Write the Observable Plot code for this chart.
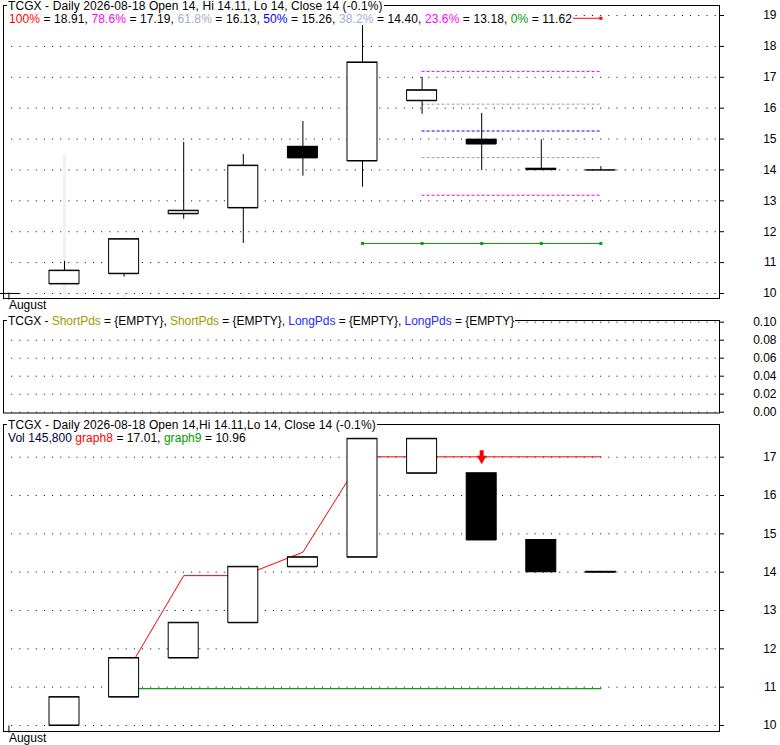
<!DOCTYPE html>
<html><head><meta charset="utf-8">
<script src="https://cdn.jsdelivr.net/npm/d3@7"></script>
<script src="https://cdn.jsdelivr.net/npm/@observablehq/plot@0.6"></script>
<style>
html,body{margin:0;padding:0;background:#fff;}
#chart{position:relative;width:780px;height:745px;overflow:hidden;font-family:"Liberation Sans",Arial,sans-serif;font-size:12px;}
#chart svg{position:absolute;left:0;}
.ttl{position:absolute;line-height:12px;height:12px;white-space:pre;background:#fff;padding:0 1px;color:#000;font-family:"Liberation Sans",Arial,sans-serif;font-size:12px;}
</style></head><body><div id="chart"></div>
<script>
// ---------------- data ----------------
const ticker = "TCGX";
const lastDate = "2026-08-18";
const bars   = [0, 1, 2, 3, 4, 5, 6, 7, 8, 9, 10];
const open   = [10.00, 10.31, 10.64, 12.58, 12.77, 14.75, 14.29, 16.24, 14.98, 14.04, 14.00];
const high   = [10.00, 11.04, 11.77, 14.89, 14.50, 15.57, 18.91, 17.00, 15.83, 14.98, 14.11];
const low    = [10.00, 10.31, 10.53, 12.40, 11.62, 13.80, 13.44, 15.80, 13.98, 14.00, 14.00];
const close  = [10.00, 10.74, 11.76, 12.68, 14.14, 14.39, 17.48, 16.58, 14.84, 14.01, 14.00];
const volume = [80000, 2950000, 90000, 110000, 120000, 80000, 130000, 90000, 100000, 70000, 145800];
const regime = ["up","up","up","up","up","up","up","up","down","down","down"];
const graph8 = [null, null, 11.27, 13.91, 13.91, 14.52, 17.01, 17.01, 17.01, 17.01, 17.01];
const graph9 = [null, null, 10.96, 10.96, 10.96, 10.96, 10.96, 10.96, 10.96, 10.96, 10.96];
const sellSignals = [8];

const fibLabels = ["100%", "78.6%", "61.8%", "50%", "38.2%", "23.6%", "0%"];
const fibValues = [18.91, 17.19, 16.13, 15.26, 14.40, 13.18, 11.62];
const fibTextColors = ["#ff0000", "#ff00ff", "#9eaed0", "#0000ff", "#9eaed0", "#ff00ff", "#009a00"];
const fibLineColors = ["#ff0000", "#ff00ff", "#a0a0a0", "#0000ff", "#a0a0a0", "#ff00ff", "#109a10"];
const fibDashed     = [false, true, true, true, true, true, false];
const fibFrom       = [6, 7, 7, 7, 7, 7, 6];
const fibTo         = [10, 10, 10, 10, 10, 10, 10];

const priceTicks = [10, 11, 12, 13, 14, 15, 16, 17, 18, 19];
const oscTicks   = [0, 0.02, 0.04, 0.06, 0.08, 0.10];
const lowerTicks = [10, 11, 12, 13, 14, 15, 16, 17];
const monthTicks = [0];
const monthNames = ["August"];

const oscNames  = ["ShortPds", "ShortPds", "LongPds", "LongPds"];
const oscColors = ["#9c9c00", "#9c9c00", "#2a2aff", "#2a2aff"];

// ---------------- build ----------------
const rows = bars.map((i, k) => ({
  i, o: open[k], h: high[k], l: low[k], c: close[k], v: volume[k],
  prev: k > 0 ? close[k - 1] : null, regime: regime[k], g8: graph8[k], g9: graph9[k]
}));
const fibRows = fibValues.map((v, k) => ({v, label: fibLabels[k], color: fibLineColors[k], dashed: fibDashed[k], from: fibFrom[k], to: fibTo[k]}));
const fibMarkers = fibRows.filter(d => !d.dashed).flatMap(d => bars.filter(b => b >= d.from && b <= d.to).map(b => ({i: b, v: d.v, color: d.color})));

const HW = 0.2517; // half body width, in bar units
const xScale = {type: "linear", domain: [-0.0235, 11.99]};
const font = "'Liberation Sans', Arial, sans-serif";
const common = {
  width: 780, marginLeft: 3, marginRight: 61,
  style: {background: "transparent", fontFamily: font, fontSize: "12px", color: "#000", overflow: "visible"},
  color: {type: "identity"}
};
const grid = (ticks) => Plot.gridY(ticks, {stroke: "#000", strokeOpacity: 1, strokeDasharray: "1,7.18"});
const yAxis = (ticks, fmt) => Plot.axisY(ticks, {anchor: "right", tickSize: 4, tickPadding: 53, textAnchor: "end", label: null, tickFormat: fmt, fontSize: 12});
const xAxis = () => Plot.axisX(monthTicks, {anchor: "bottom", tickSize: 7, tickPadding: 0, tickFormat: (d, k) => monthNames[k], textAnchor: "start", dx: 4, dy: -5.5, label: null, fontSize: 12});

const downArrow = {
  draw(ctx) {
    ctx.moveTo(-2, -6.5); ctx.lineTo(2, -6.5); ctx.lineTo(2, -1);
    ctx.lineTo(4.8, -1); ctx.lineTo(0, 7.5); ctx.lineTo(-4.8, -1);
    ctx.lineTo(-2, -1); ctx.closePath();
  }
};

const chart = document.getElementById("chart");
function place(svg, top) { svg.style.top = top + "px"; chart.append(svg); }

// volume overlay (top panel)
place(Plot.plot({
  ...common, height: 310, marginTop: 5, marginBottom: 12,
  x: {...xScale, axis: null}, y: {domain: [0, 6e6], axis: null},
  marks: [Plot.ruleX(rows, {x: "i", y1: 0, y2: "v", stroke: "#f1f1f1", strokeWidth: 3})]
}), 0);

// price panel
place(Plot.plot({
  ...common, height: 310, marginTop: 5, marginBottom: 12,
  x: {...xScale, axis: null}, y: {domain: [9.838, 19.324], axis: null, label: null},
  marks: [
    grid(priceTicks),
    Plot.ruleY(fibRows.filter(d => d.dashed), {y: "v", x1: "from", x2: "to", stroke: "color", strokeDasharray: "3,2"}),
    Plot.ruleY(fibRows.filter(d => !d.dashed), {y: "v", x1: "from", x2: "to", stroke: "color"}),
    Plot.dot(fibMarkers, {x: "i", y: "v", symbol: "square", r: 1.7, fill: "color"}),
    Plot.ruleX(rows, {x: "i", y1: "l", y2: "h", stroke: "#000"}),
    Plot.rect(rows, {x1: d => d.i - HW, x2: d => d.i + HW, y1: "o", y2: "c", fill: d => d.c < d.o ? "#000" : "#fff", stroke: "#000"}),
    Plot.ruleY(rows, {y: "o", x1: d => d.i - HW, x2: d => d.i + HW, stroke: "#000"}),
    Plot.ruleY(rows, {y: "c", x1: d => d.i - HW, x2: d => d.i + HW, stroke: "#000"}),
    yAxis(priceTicks),
    xAxis(),
    Plot.frame({stroke: "#000"})
  ]
}), 0);

// oscillator panel (empty)
place(Plot.plot({
  ...common, height: 110, marginTop: 10, marginBottom: 7.5,
  x: {...xScale, axis: null}, y: {domain: [-0.00089, 0.10189], axis: null, label: null},
  marks: [
    grid(oscTicks),
    yAxis(oscTicks, d3.format(".2f")),
    Plot.frame({stroke: "#000"})
  ]
}), 310);

// lower panel
const lowerRows = rows.filter(d => d.prev != null);
place(Plot.plot({
  ...common, height: 325, marginTop: 4, marginBottom: 14,
  x: {...xScale, axis: null}, y: {domain: [9.843, 17.853], axis: null, label: null},
  marks: [
    grid(lowerTicks),
    Plot.line(rows.filter(d => d.g8 != null), {x: "i", y: "g8", stroke: "#ff0000", strokeWidth: 1}),
    Plot.line(rows.filter(d => d.g9 != null), {x: "i", y: "g9", stroke: "#109a10", strokeWidth: 1.2}),
    Plot.rect(lowerRows, {x1: d => d.i - HW, x2: d => d.i + HW, y1: "prev", y2: "c", fill: d => d.regime === "down" ? "#000" : "#fff", stroke: "#000"}),
    Plot.ruleY(lowerRows, {y: "prev", x1: d => d.i - HW, x2: d => d.i + HW, stroke: "#000"}),
    Plot.ruleY(lowerRows, {y: "c", x1: d => d.i - HW, x2: d => d.i + HW, stroke: "#000"}),
    Plot.dot(sellSignals, {x: d => d, y: d => graph8[d], symbol: downArrow, fill: "#ff0000"}),
    yAxis(lowerTicks),
    xAxis(),
    Plot.frame({stroke: "#000"})
  ]
}), 420);

// ---------------- titles ----------------
const n = bars.length - 1;
const f = v => String(+v.toFixed(2));
const chg = ((close[n] / close[n - 1] - 1) * 100).toFixed(1);
function title(top, left, html, spacing) {
  const d = document.createElement("div");
  d.className = "ttl";
  d.style.top = top + "px";
  d.style.left = left + "px";
  d.style.letterSpacing = spacing + "px";
  d.innerHTML = html;
  chart.append(d);
}
const span = (t, c) => `<span style="color:${c}">${t}</span>`;

title(0, 7, `${ticker} - Daily ${lastDate} Open ${f(open[n])}, Hi ${f(high[n])}, Lo ${f(low[n])}, Close ${f(close[n])} (${chg}%)`, 0.09);
title(13, 8, fibLabels.map((lab, k) => span(lab, fibTextColors[k]) + ` = ${fibValues[k].toFixed(2)}`).join(", "), 0.1);
title(315, 7, `${ticker} - ` + oscNames.map((nm, k) => span(nm, oscColors[k]) + " = {EMPTY}").join(", "), -0.04);
title(419, 7, `${ticker} - Daily ${lastDate} Open ${f(open[n])},Hi ${f(high[n])},Lo ${f(low[n])}, Close ${f(close[n])} (${chg}%)`, 0.09);
title(432, 7, span(`Vol ${d3.format(",")(volume[n])}`, "#000040") + " " + span("graph8", "#ff0000") + ` = ${graph8[n].toFixed(2)}, ` + span("graph9", "#009a00") + ` = ${graph9[n].toFixed(2)}`, 0.05);
</script>
</body></html>
